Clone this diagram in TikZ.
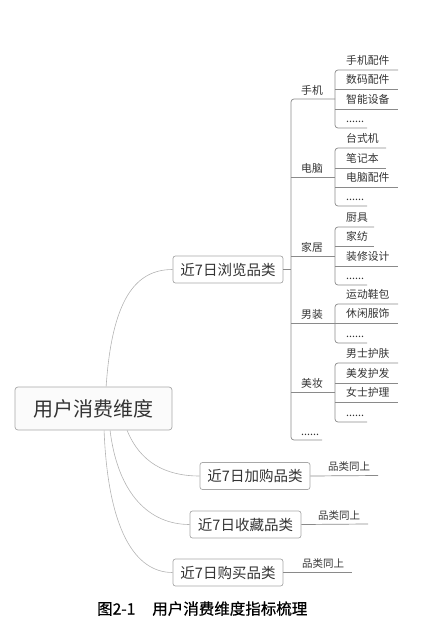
\documentclass[tikz,border=0pt]{standalone}
\usepackage{fontspec}
\setmainfont{Noto Sans CJK SC}
\newfontfamily\capfont[AutoFakeBold=0.7]{Noto Sans CJK SC}
\usetikzlibrary{calc}
\definecolor{txt}{HTML}{333333}
\definecolor{treecol}{HTML}{8A8A8A}
\definecolor{curvecol}{HTML}{B4B4B4}
\definecolor{boxcol}{HTML}{A8A8A8}
\begin{document}
\begin{tikzpicture}[x=1pt,y=-1pt,
  tree/.style={draw=treecol, line width=0.7pt},
  treer/.style={tree, rounded corners=3pt},
  curve/.style={draw=curvecol, line width=0.6pt},
  rootbox/.style={draw=boxcol, line width=0.7pt, rounded corners=3pt, fill=gray!3, text=txt,
     font=\fontsize{20}{23}\selectfont, minimum width=157pt, minimum height=43pt, inner sep=0pt},
  catbox/.style={draw=boxcol, line width=0.7pt, rounded corners=2.5pt, fill=white, text=txt,
     font=\fontsize{14.5}{17}\selectfont, minimum height=27pt, inner sep=0pt},
  lvlone/.style={anchor=base west, inner sep=0pt, text=txt, font=\fontsize{10.8}{12}\selectfont},
  lvltwo/.style={anchor=base west, inner sep=0pt, text=txt, font=\fontsize{10.8}{12}\selectfont},
  note/.style={anchor=base west, inner sep=0pt, text=txt, font=\fontsize{10.5}{12}\selectfont},
  caption/.style={anchor=base west, inner sep=0pt, text=black, font=\capfont\bfseries\fontsize{15.5}{18}\selectfont}
]
\useasboundingbox (0,0) rectangle (427,624);

% root and category boxes
\node[rootbox] (root) at (93.5,408.5) {用户消费维度};
\node[catbox, minimum width=110pt] (b1) at (228,269.5) {近7日浏览品类};
\node[catbox, minimum width=110pt] (b2) at (255,476) {近7日加购品类};
\node[catbox, minimum width=111pt] (b3) at (245.5,524.5) {近7日收藏品类};
\node[catbox, minimum width=110pt] (b4) at (228,572.5) {近7日购买品类};

% curves from root
\draw[curve] ($(root.north west)!0.58!(root.north east)$) .. controls (112,300) and (135,269.5) .. (b1.west);
\draw[curve] ($(root.south west)!0.713!(root.south east)$) .. controls (140,462) and (165,476) .. (b2.west);
\draw[curve] ($(root.south west)!0.605!(root.south east)$) .. controls (118,495) and (150,524.5) .. (b3.west);
\draw[curve] ($(root.south west)!0.567!(root.south east)$) .. controls (108,530) and (135,572.5) .. (b4.west);

% "品类同上" branches
\coordinate (e2) at (378,475.5);
\coordinate (e3) at (368,524);
\coordinate (e4) at (352,572.5);
\draw[tree] (b2.east) -- (e2);
\draw[tree] (b3.east) -- (e3);
\draw[tree] (b4.east) -- (e4);
\node[note] (n2) at (328,470.5) {品类同上};
\node[note] (n3) at (318,519) {品类同上};
\node[note] (n4) at (302,567.5) {品类同上};

% top-level spine
\coordinate (sp) at (291,269.5);
\draw[tree] (b1.east) -- (sp);
\draw[treer] (335,99) -- (291,99) -- (291,440) -- (322,440);
\foreach \y in {177,256,323,392} \draw[tree] (291,\y) -- (335,\y);
\node[lvlone] (g1) at (301,94) {手机};
\node[lvlone] (g2) at (301,172) {电脑};
\node[lvlone] (g3) at (301,251) {家居};
\node[lvlone] (g4) at (301,318) {男装};
\node[lvlone] (g5) at (301,387) {美妆};
\node[lvlone] (g6) at (301,435) {......};

% 手机
\draw[treer] (398,70) -- (335,70) -- (335,128) -- (367,128);
\draw[tree] (335,89) -- (398,89);
\draw[tree] (335,109) -- (398,109);
\node[lvltwo] (a1) at (346,64.5) {手机配件};
\node[lvltwo] (a2) at (346,83.5) {数码配件};
\node[lvltwo] (a3) at (346,103.5) {智能设备};
\node[lvltwo] (a4) at (346,122.5) {......};

% 电脑
\draw[treer] (386,148) -- (335,148) -- (335,206) -- (367,206);
\draw[tree] (335,168) -- (386,168);
\draw[tree] (335,187) -- (398,187);
\node[lvltwo] (c1) at (346,142.5) {台式机};
\node[lvltwo] (c2) at (346,162.5) {笔记本};
\node[lvltwo] (c3) at (346,181.5) {电脑配件};
\node[lvltwo] (c4) at (346,200.5) {......};

% 家居
\draw[treer] (374,227) -- (335,227) -- (335,285) -- (367,285);
\draw[tree] (335,246) -- (374,246);
\draw[tree] (335,266) -- (398,266);
\node[lvltwo] (h1) at (346,221.5) {厨具};
\node[lvltwo] (h2) at (346,240.5) {家纺};
\node[lvltwo] (h3) at (346,260.5) {装修设计};
\node[lvltwo] (h4) at (346,279.5) {......};

% 男装
\draw[treer] (398,304) -- (335,304) -- (335,343) -- (367,343);
\draw[tree] (335,323) -- (398,323);
\node[lvltwo] (m1) at (346,298.5) {运动鞋包};
\node[lvltwo] (m2) at (346,317.5) {休闲服饰};
\node[lvltwo] (m3) at (346,337.5) {......};

% 美妆
\draw[treer] (398,363) -- (335,363) -- (335,422) -- (367,422);
\draw[tree] (335,383) -- (398,383);
\draw[tree] (335,402) -- (398,402);
\node[lvltwo] (k1) at (346,357.5) {男士护肤};
\node[lvltwo] (k2) at (346,377.5) {美发护发};
\node[lvltwo] (k3) at (346,396.5) {女士护理};
\node[lvltwo] (k4) at (346,416.5) {......};

% caption
\node[caption] (cap) at (97,614.5) {图2-1\hspace{1.1em}用户消费维度指标梳理};
\end{tikzpicture}
\end{document}
